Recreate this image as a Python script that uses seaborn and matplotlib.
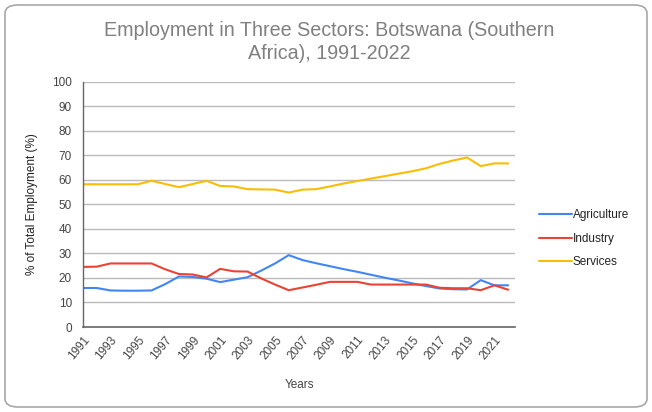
import numpy as np
import pandas as pd
import matplotlib
matplotlib.use("Agg")
import matplotlib.pyplot as plt
from matplotlib.patches import FancyBboxPatch
import seaborn as sns

# ---- data ----
years = list(range(1991, 2023))
agriculture = [15.9, 15.9, 14.9, 14.8, 14.8, 14.9, 17.5, 20.6, 20.4, 19.7,
               18.3, 19.3, 20.3, 23.0, 25.9, 29.3, 27.3, 26.0, 24.8, 23.6,
               22.5, 21.3, 20.1, 19.0, 17.8, 16.7, 15.7, 15.4, 15.3, 19.1,
               17.0, 17.0]
industry = [24.5, 24.6, 25.9, 25.9, 25.9, 25.9, 23.5, 21.6, 21.4, 20.2,
            23.7, 22.7, 22.6, 19.8, 17.3, 15.0, 16.1, 17.2, 18.4, 18.4,
            18.4, 17.3, 17.3, 17.3, 17.3, 17.3, 16.0, 15.8, 15.8, 15.0,
            17.0, 15.2]
services = [58.2, 58.2, 58.2, 58.2, 58.2, 59.6, 58.3, 57.0, 58.3, 59.6,
            57.5, 57.3, 56.2, 56.1, 56.0, 54.8, 56.0, 56.2, 57.3, 58.5,
            59.5, 60.5, 61.5, 62.5, 63.5, 64.7, 66.5, 67.9, 69.1, 65.6,
            66.7, 66.7]
sectors = ["Agriculture", "Industry", "Services"]
colors = ["#4285F4", "#EA4335", "#FBBC04"]

df = pd.DataFrame({"Year": years, "Agriculture": agriculture,
                   "Industry": industry, "Services": services})
long_df = df.melt(id_vars="Year", var_name="Sector", value_name="Share")

sns.set_style("white")
plt.rcParams["font.family"] = ["Liberation Sans", "DejaVu Sans"]

fig = plt.figure(figsize=(6.52, 4.12), dpi=100)
ax = fig.add_axes([83 / 652, 1 - 327 / 412, (515 - 83) / 652, (327 - 81.7) / 412])

sns.lineplot(data=long_df, x="Year", y="Share", hue="Sector",
             hue_order=sectors, palette=colors, linewidth=1.5, ax=ax)

ax.set_xlim(1991, 2022.5)
ax.set_ylim(0, 100)
ax.set_yticks(range(0, 101, 10))
ax.set_xticks(years[::2])
ax.set_xticklabels([str(y) for y in years[::2]], rotation=50, ha="right",
                   rotation_mode="anchor", fontsize=8.5, color="#444444")
ax.tick_params(axis="y", labelsize=8.5, labelcolor="#444444", length=0, pad=8)
ax.tick_params(axis="x", length=0, pad=5)
ax.grid(axis="y", color="#bbbbbb", linewidth=1)
ax.grid(axis="x", visible=False)
for side in ["top", "right"]:
    ax.spines[side].set_visible(False)
ax.spines["left"].set_color("#666666")
ax.spines["bottom"].set_color("#666666")
ax.spines["left"].set_linewidth(1)
ax.spines["bottom"].set_linewidth(1.2)

ax.set_xlabel("Years", fontsize=8.5, color="#444444", labelpad=12)
ax.set_ylabel("% of Total Employment (%)", fontsize=8.5, color="#222222", labelpad=10)

leg = ax.legend(loc="center left", bbox_to_anchor=(1.03, 0.36), frameon=False,
                fontsize=8.5, handlelength=2.8, handletextpad=0.1,
                labelspacing=0.95)
for t in leg.get_texts():
    t.set_color("#222222")

fig.suptitle("Employment in Three Sectors: Botswana (Southern\nAfrica), 1991-2022",
             x=0.505, y=0.948, fontsize=14.2, color="#808080", linespacing=1.25)

border = FancyBboxPatch((5 / 652, 5 / 412), 642 / 652, 402 / 412,
                        boxstyle="round,pad=0,rounding_size=0.02",
                        transform=fig.transFigure, fill=False,
                        edgecolor="#a8a8a8", linewidth=1.2)
fig.patches.append(border)

fig.savefig("out.png", dpi=100)
